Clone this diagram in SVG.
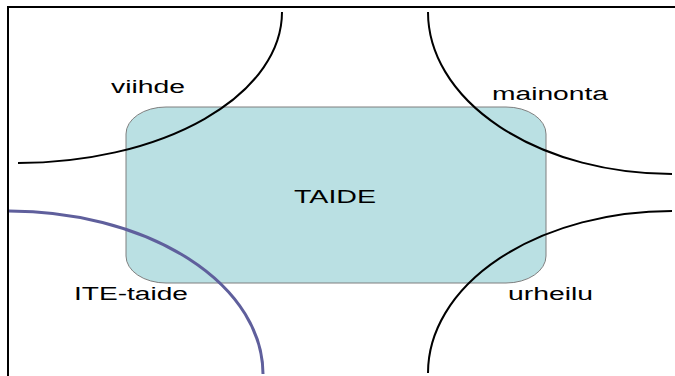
<svg xmlns="http://www.w3.org/2000/svg" width="675" height="376" viewBox="0 0 675 376">
<style>
.lbl{font-family:"Liberation Sans",Arial,sans-serif;font-size:18px;fill:#000}
.arc{fill:none;stroke:#000;stroke-width:2}
</style>
<rect width="675" height="376" fill="#fff"/>
<g id="frame"><path d="M8,376 V7 H675" fill="none" stroke="#000" stroke-width="2"/></g>
<g id="taide">
<rect x="126" y="107" width="420" height="176" rx="40" ry="27" fill="#bae0e3" stroke="#7f7f7f" stroke-width="1"/>
<text class="lbl" x="294" y="203" font-size="20" textLength="82" lengthAdjust="spacingAndGlyphs">TAIDE</text>
</g>
<g id="connectors">
<path class="arc" d="M282,12 A264,151 0 0 1 18,163"/>
<path class="arc" d="M428,12 A244,162 0 0 0 672,174"/>
<path class="arc" d="M672,211 A244,162 0 0 0 428,373"/>
<path d="M9,211 A254,163 0 0 1 263,374" fill="none" stroke="#5f5f9c" stroke-width="3"/>
</g>
<g id="viihde"><text class="lbl" x="111" y="93" textLength="74" lengthAdjust="spacingAndGlyphs">viihde</text></g>
<g id="mainonta"><text class="lbl" x="492" y="100" textLength="116" lengthAdjust="spacingAndGlyphs">mainonta</text></g>
<g id="ite-taide"><text class="lbl" x="74" y="300" textLength="114" lengthAdjust="spacingAndGlyphs">ITE-taide</text></g>
<g id="urheilu"><text class="lbl" x="508" y="300" textLength="85" lengthAdjust="spacingAndGlyphs">urheilu</text></g>
</svg>
